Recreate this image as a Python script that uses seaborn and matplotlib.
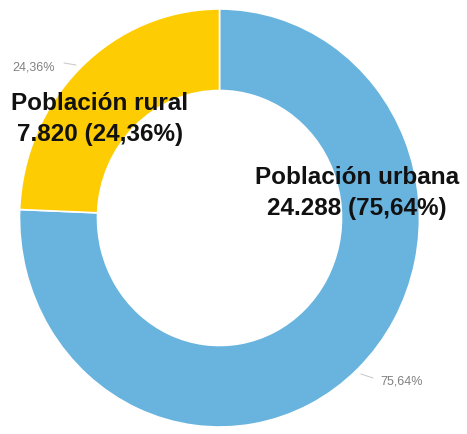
import matplotlib
matplotlib.use("Agg")
import matplotlib.pyplot as plt
import seaborn as sns

# datos
categorias = ["Población urbana", "Población rural"]
valores = [24288, 7820]
porcentajes = ["75,64%", "24,36%"]
valores_txt = ["24.288", "7.820"]
colores = ["#68B4DE", "#FECC02"]

sns.set_theme(style="white")
plt.rcParams['font.family'] = ['Liberation Sans', 'DejaVu Sans']

fig = plt.figure(figsize=(4.67, 4.35), dpi=100)
ax = fig.add_axes([0, 0, 1, 1])

wedges, _ = ax.pie(valores, colors=colores, startangle=90, counterclock=False,
                   radius=1.0, wedgeprops=dict(width=0.39, edgecolor='white', linewidth=1.2))

# centro del donut en pixeles, el original esta algo estirado en vertical
cx, cy, Rx, Ry = 219.5, 219, 200, 209
ax.set_aspect('auto')
ax.set_xlim(-cx / Rx, (467 - cx) / Rx)
ax.set_ylim(-(435 - cy) / Ry, cy / Ry)
ax.axis('off')

def px(x, y):
    return (x - cx) / Rx, (cy - y) / Ry

# etiquetas grandes
ax.text(*px(357, 193), f"{categorias[0]}\n{valores_txt[0]} ({porcentajes[0]})",
        ha='center', va='center', fontsize=17.5, fontweight='bold', color='#111111', linespacing=1.4)
ax.text(*px(100, 119), f"{categorias[1]}\n{valores_txt[1]} ({porcentajes[1]})",
        ha='center', va='center', fontsize=17.5, fontweight='bold', color='#111111', linespacing=1.4)

# etiquetas pequeñas con lineas guia
ax.text(*px(34, 67), porcentajes[1], ha='center', va='center', fontsize=9, color='#808080')
ax.plot(*zip(px(64, 64), px(76, 66)), color='#cccccc', lw=0.8)
ax.text(*px(402, 381), porcentajes[0], ha='center', va='center', fontsize=9, color='#808080')
ax.plot(*zip(px(361, 375), px(373, 379)), color='#cccccc', lw=0.8)

plt.savefig("out.png", dpi=100)
plt.close()
